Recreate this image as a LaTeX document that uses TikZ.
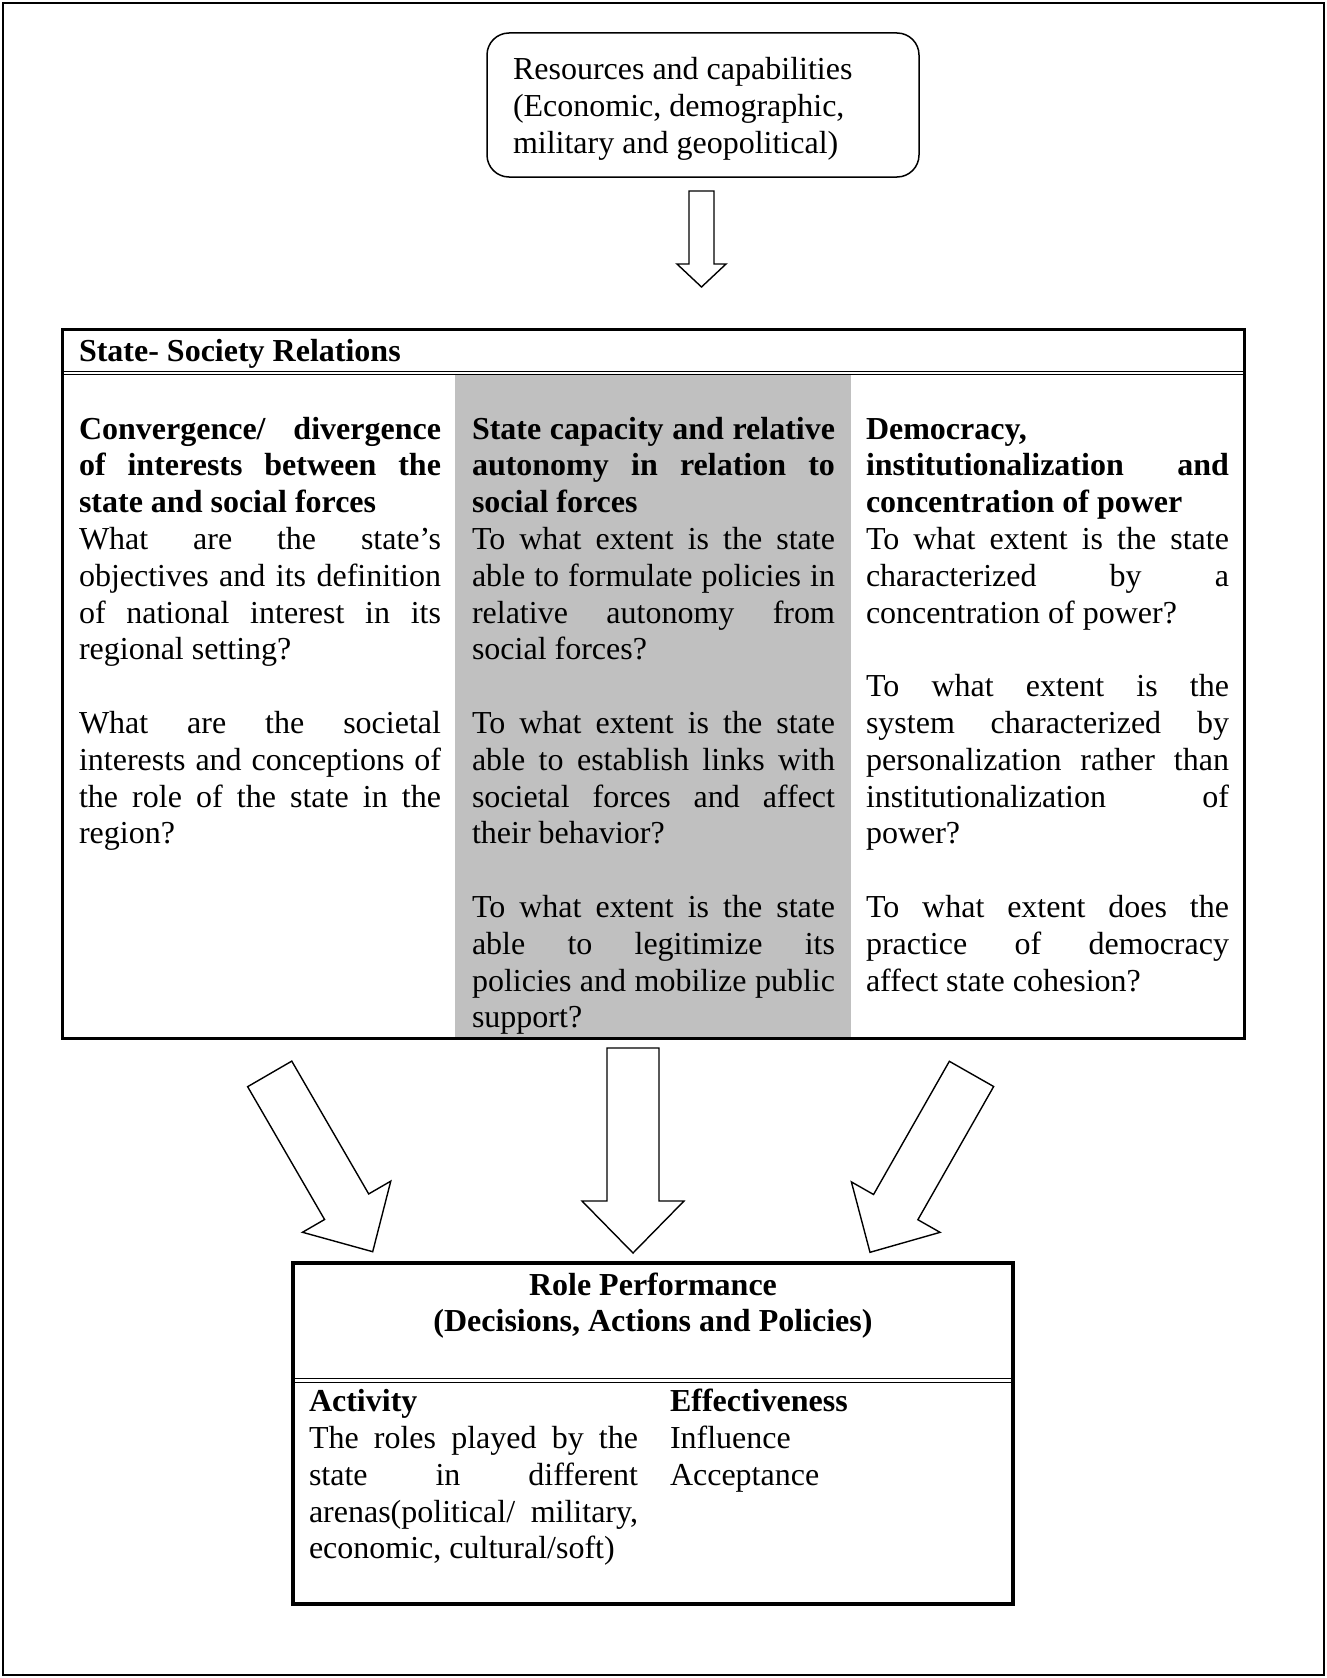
\documentclass[tikz,border=0pt]{standalone}
\usepackage{fontspec}
\setmainfont{Liberation Serif}
\usetikzlibrary{calc}
\definecolor{colgray}{RGB}{192,192,192}
\hbadness=10000
\hfuzz=6pt
\newcommand\jl[1]{\hbox to\hsize{#1}}
\newcommand\lastl[1]{\hbox{#1}}
\newcommand\cl[1]{\hbox to\hsize{\hfil#1\hfil}}
\newcommand\blankl{\hbox{}}
\newcommand\txtblock[2]{\vtop{\hsize=#1\fontsize{32}{36.8}\selectfont#2}}
\newcommand\blockarrow[5]{%
  \coordinate (ba-h) at ($(#2)!#5!(#1)$);
  \draw[blockarr] ($(#1)!#3!90:(#2)$) -- ($(ba-h)!#3!90:(#2)$) -- ($(ba-h)!#4!90:(#2)$) -- (#2)
     -- ($(ba-h)!#4!-90:(#2)$) -- ($(ba-h)!#3!-90:(#2)$) -- ($(#1)!#3!-90:(#2)$) -- cycle;}
\tikzset{
  frame/.style={line width=1.5pt},
  roundbox/.style={draw, line width=1.5pt, rounded corners=22pt, inner sep=0pt, outer sep=0pt, anchor=north west},
  tablebox/.style={draw, inner sep=0pt, outer sep=0pt, anchor=north west},
  dblline/.style={line width=1.5pt},
  blockarr/.style={draw, line width=1.4pt, fill=white, line join=miter},
  txt/.style={inner sep=0pt, outer sep=0pt, anchor=base west},
}
\begin{document}
\begin{tikzpicture}[x=1pt,y=-1pt]
\useasboundingbox (0,0) rectangle (1327,1678);
\draw[frame] (3,3) rectangle (1324,1675);

% resources box
\node (res) [roundbox, minimum width=432pt, minimum height=144pt] at (487,33) {};
\node (restext) [txt] at (513,80) {\txtblock{380pt}{%
  \lastl{Resources and capabilities}%
  \lastl{(Economic, demographic,}%
  \lastl{military and geopolitical)}}};

% state-society table
\fill[colgray] (455,375.2) rectangle (851,1038.3);
\node (ssr) [tablebox, line width=3pt, minimum width=1181.5pt, minimum height=708.8pt] at (62.5,329.5) {};
\draw[dblline] ($(ssr.north west)+(0,41.8)$) -- ($(ssr.north east)+(0,41.8)$);
\draw[dblline] ($(ssr.north west)+(0,44.8)$) -- ($(ssr.north east)+(0,44.8)$);
\node (ssrtitle) [txt] at (79,361) {\fontsize{32}{36.8}\selectfont\bfseries State- Society Relations};

\node (c1) [txt] at (79,439) {\txtblock{362pt}{%
  \jl{\bfseries Convergence/ divergence}%
  \jl{\bfseries of interests between the}%
  \lastl{\bfseries state and social forces}%
  \jl{What are the state’s}%
  \jl{objectives and its definition}%
  \jl{of national interest in its}%
  \lastl{regional setting?}%
  \blankl
  \jl{What are the societal}%
  \jl{interests and conceptions of}%
  \jl{the role of the state in the}%
  \lastl{region?}}};

\node (c2) [txt] at (472,439) {\txtblock{363pt}{%
  \jl{\bfseries State capacity and relative}%
  \jl{\bfseries autonomy in relation to}%
  \lastl{\bfseries social forces}%
  \jl{To what extent is the state}%
  \jl{able to formulate policies in}%
  \jl{relative autonomy from}%
  \lastl{social forces?}%
  \blankl
  \jl{To what extent is the state}%
  \jl{able to establish links with}%
  \jl{societal forces and affect}%
  \lastl{their behavior?}%
  \blankl
  \jl{To what extent is the state}%
  \jl{able to legitimize its}%
  \jl{policies and mobilize public}%
  \lastl{support?}}};

\node (c3) [txt] at (866,439) {\txtblock{363pt}{%
  \jl{\bfseries Democracy,}%
  \jl{\bfseries institutionalization and}%
  \lastl{\bfseries concentration of power}%
  \jl{To what extent is the state}%
  \jl{characterized by a}%
  \lastl{concentration of power?}%
  \blankl
  \jl{To what extent is the}%
  \jl{system characterized by}%
  \jl{personalization rather than}%
  \jl{institutionalization of}%
  \lastl{power?}%
  \blankl
  \jl{To what extent does the}%
  \jl{practice of democracy}%
  \lastl{affect state cohesion?}}};

% role performance box
\node (role) [tablebox, line width=3.3pt, minimum width=720pt, minimum height=341pt] at (293,1263) {};
\draw[dblline] ($(role.north west)+(0,115.3)$) -- ($(role.north east)+(0,115.3)$);
\draw[dblline] ($(role.north west)+(0,119.3)$) -- ($(role.north east)+(0,119.3)$);
\node (roletitle) [inner sep=0pt, anchor=base] at (653,1295) {\txtblock{700pt}{%
  \cl{\bfseries Role Performance}%
  \cl{\bfseries (Decisions, Actions and Policies)}}};
\node (act) [txt] at (309,1411.7) {\txtblock{329pt}{%
  \lastl{\bfseries Activity}%
  \jl{The roles played by the}%
  \jl{state in different}%
  \jl{arenas(political/ military,}%
  \lastl{economic, cultural/soft)}}};
\node (eff) [txt] at (670,1411.7) {\txtblock{320pt}{%
  \lastl{\bfseries Effectiveness}%
  \lastl{Influence}%
  \lastl{Acceptance}}};

% block arrows
\coordinate (a0-tail) at (701.5,191);
\coordinate (a0-tip) at (701.5,287);
\coordinate (aL-tail) at (269.7,1073.9);
\coordinate (aL-tip) at (372.7,1251.7);
\coordinate (aM-tail) at (633,1048);
\coordinate (aM-tip) at (633,1253);
\coordinate (aR-tail) at (971.5,1073.9);
\coordinate (aR-tip) at (870,1252.3);
\blockarrow{a0-tail}{a0-tip}{12.5pt}{24.5pt}{23pt}
\blockarrow{aL-tail}{aL-tip}{25.5pt}{51pt}{52pt}
\blockarrow{aM-tail}{aM-tip}{26pt}{51pt}{52pt}
\blockarrow{aR-tail}{aR-tip}{25.5pt}{51pt}{52pt}
\end{tikzpicture}
\end{document}
